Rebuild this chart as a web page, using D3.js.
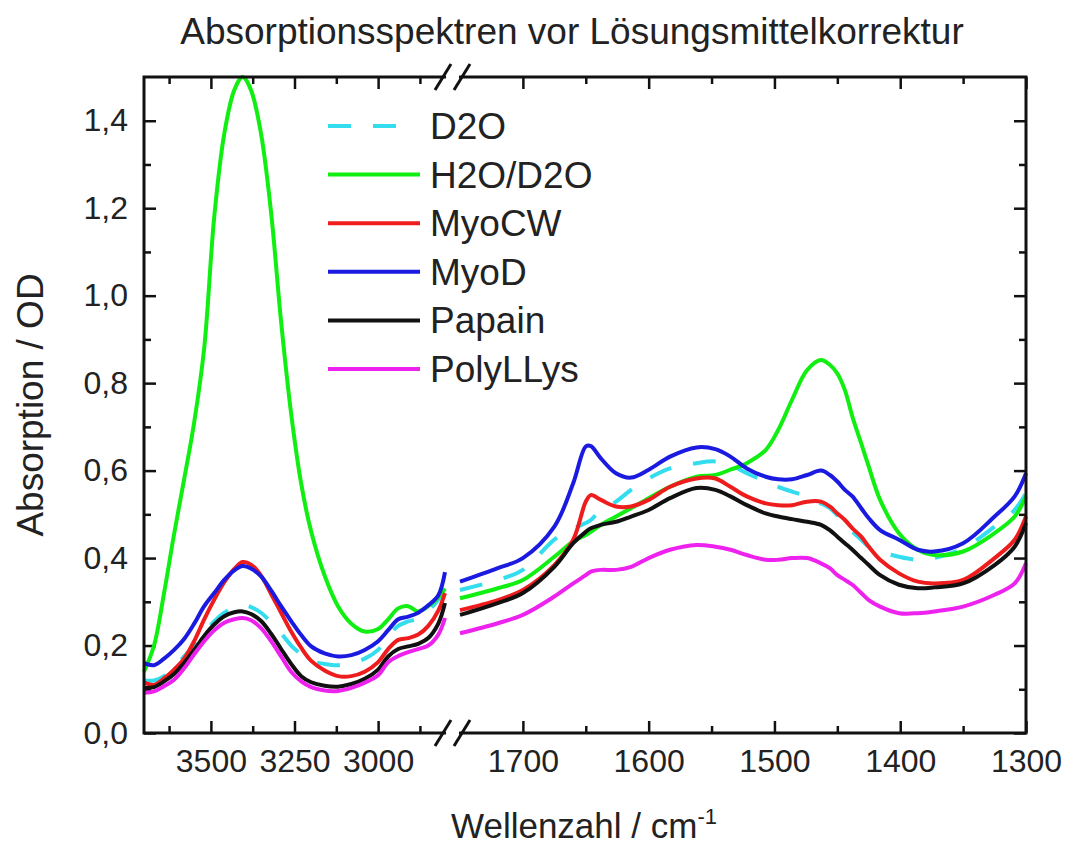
<!DOCTYPE html>
<html>
<head>
<meta charset="utf-8">
<script src="https://d3js.org/d3.v7.min.js"></script>
<style>
    body { margin: 0; background: #fff; }
    text { font-family: "Liberation Sans", Arial, sans-serif; fill: #222; }
</style>
</head>
<body>
<div id="myDiv"></div>
<script>
//Wavenumbers of the two x segments (left: OH/OD stretch, right: amide region)
var wnLeft = [3700, 3670, 3640, 3610, 3580, 3550, 3520, 3490, 3460, 3430, 3405, 3380, 3350, 3320, 3290,
    3260, 3230, 3200, 3160, 3120, 3080, 3040, 3000, 2970, 2940, 2910, 2880, 2850, 2820, 2800];
var wnRight = [1750, 1720, 1700, 1675, 1660, 1650, 1646, 1638, 1626, 1614, 1600, 1583, 1562, 1547, 1535,
    1522, 1507, 1497, 1486, 1474, 1463, 1456, 1450, 1444, 1438, 1431, 1425, 1416, 1401, 1386, 1373, 1350, 1325, 1309, 1300];

//Series names
var names = ["D2O", "H2O/D2O", "MyoCW", "MyoD", "Papain", "PolyLLys"];
var colors = ["#33dded", "#11ee11", "#ee1c1c", "#1a1ae0", "#111111", "#ee22ee"];

//Absorption values, left segment
var d2oLeft = [0.12, 0.12, 0.13, 0.15, 0.175, 0.2, 0.228, 0.255, 0.275, 0.288, 0.292, 0.288, 0.275, 0.253, 0.228,
    0.2, 0.18, 0.165, 0.158, 0.155, 0.16, 0.17, 0.19, 0.22, 0.245, 0.255, 0.262, 0.28, 0.305, 0.34];
var h2oLeft = [0.14, 0.2, 0.32, 0.455, 0.58, 0.71, 0.88, 1.18, 1.37, 1.47, 1.5, 1.47, 1.37, 1.19, 0.94,
    0.73, 0.57, 0.46, 0.36, 0.29, 0.25, 0.232, 0.238, 0.26, 0.285, 0.29, 0.278, 0.29, 0.31, 0.33];
var myocwLeft = [0.115, 0.11, 0.125, 0.145, 0.17, 0.21, 0.26, 0.305, 0.345, 0.375, 0.391, 0.385, 0.36, 0.318, 0.275,
    0.232, 0.195, 0.165, 0.143, 0.13, 0.13, 0.14, 0.162, 0.192, 0.213, 0.217, 0.225, 0.245, 0.28, 0.32];
var myodLeft = [0.16, 0.155, 0.17, 0.19, 0.215, 0.25, 0.29, 0.32, 0.35, 0.372, 0.382, 0.376, 0.358, 0.326, 0.29,
    0.256, 0.224, 0.198, 0.182, 0.175, 0.178, 0.19, 0.21, 0.235, 0.26, 0.266, 0.275, 0.292, 0.315, 0.368];
var papainLeft = [0.103, 0.105, 0.118, 0.135, 0.16, 0.19, 0.222, 0.248, 0.267, 0.276, 0.278, 0.272, 0.256, 0.227, 0.192,
    0.158, 0.13, 0.116, 0.108, 0.106, 0.112, 0.124, 0.145, 0.175, 0.192, 0.198, 0.204, 0.217, 0.25, 0.297];
var lysLeft = [0.092, 0.095, 0.107, 0.122, 0.148, 0.18, 0.21, 0.235, 0.252, 0.26, 0.263, 0.258, 0.24, 0.21, 0.175,
    0.14, 0.118, 0.105, 0.097, 0.096, 0.103, 0.115, 0.132, 0.162, 0.176, 0.185, 0.192, 0.2, 0.225, 0.263];

//Absorption values, right segment
var d2oRight = [0.327, 0.35, 0.373, 0.442, 0.468, 0.48, 0.487, 0.51, 0.529, 0.556, 0.582, 0.605, 0.617, 0.621, 0.613,
    0.594, 0.575, 0.563, 0.552, 0.541, 0.525, 0.514, 0.498, 0.48, 0.46, 0.442, 0.426, 0.415, 0.403, 0.396, 0.4, 0.422, 0.472, 0.51, 0.548];
var h2oRight = [0.308, 0.331, 0.35, 0.403, 0.438, 0.453, 0.46, 0.476, 0.495, 0.514, 0.537, 0.563, 0.586, 0.59, 0.602,
    0.617, 0.647, 0.693, 0.762, 0.83, 0.853, 0.842, 0.822, 0.784, 0.723, 0.662, 0.609, 0.533, 0.457, 0.419, 0.407, 0.415, 0.457, 0.495, 0.541];
var myocwRight = [0.281, 0.304, 0.327, 0.384, 0.442, 0.529, 0.544, 0.533, 0.518, 0.518, 0.533, 0.563, 0.582, 0.582, 0.563,
    0.541, 0.525, 0.521, 0.521, 0.529, 0.529, 0.518, 0.502, 0.487, 0.468, 0.449, 0.426, 0.396, 0.365, 0.346, 0.342, 0.35, 0.4, 0.442, 0.495];
var myodRight = [0.346, 0.377, 0.4, 0.472, 0.571, 0.655, 0.656, 0.628, 0.594, 0.584, 0.602, 0.632, 0.653, 0.649, 0.632,
    0.605, 0.586, 0.58, 0.58, 0.59, 0.6, 0.59, 0.575, 0.556, 0.541, 0.514, 0.491, 0.464, 0.442, 0.419, 0.415, 0.434, 0.495, 0.541, 0.594];
var papainRight = [0.27, 0.297, 0.32, 0.38, 0.434, 0.46, 0.468, 0.476, 0.483, 0.495, 0.51, 0.537, 0.56, 0.556, 0.541,
    0.521, 0.502, 0.495, 0.489, 0.483, 0.476, 0.464, 0.449, 0.434, 0.419, 0.4, 0.384, 0.361, 0.339, 0.331, 0.333, 0.342, 0.384, 0.426, 0.48];
var lysRight = [0.228, 0.251, 0.27, 0.312, 0.342, 0.361, 0.369, 0.373, 0.373, 0.38, 0.4, 0.419, 0.43, 0.426, 0.419,
    0.407, 0.396, 0.396, 0.4, 0.4, 0.388, 0.377, 0.361, 0.35, 0.339, 0.32, 0.304, 0.289, 0.274, 0.274, 0.278, 0.289, 0.316, 0.342, 0.388];

var leftValues = [d2oLeft, h2oLeft, myocwLeft, myodLeft, papainLeft, lysLeft];
var rightValues = [d2oRight, h2oRight, myocwRight, myodRight, papainRight, lysRight];

//Tick labels
var leftTicks = [3500, 3250, 3000];
var rightTicks = [1700, 1600, 1500, 1400, 1300];
var yTicks = [0, 0.2, 0.4, 0.6, 0.8, 1.0, 1.2, 1.4];

var width = 1067;
var height = 848;
var plotTop = 77, plotBottom = 733, plotLeft = 144, plotRight = 1026;
var breakL = 445, breakR = 460;

//Create an SVG Container
var svg = d3.select("#myDiv").append("svg")
    .attr("width", width)
    .attr("height", height);

svg.append("rect").attr("width", width).attr("height", height).attr("fill", "#fff");

//Scales
var yScale = d3.scaleLinear().domain([0, 1.5]).range([plotBottom, plotTop]);
var xLeft = d3.scaleLinear().domain([3700, 2800]).range([plotLeft, breakL]);
var xRight = d3.scaleLinear().domain([1750, 1300]).range([breakR, plotRight]);

var comma = function(d){ return d3.format(".1f")(d).replace(".", ","); };
var yMinors = [0.1, 0.3, 0.5, 0.7, 0.9, 1.1, 1.3];

//Y axes (left with labels, right mirrored)
svg.append("g").attr("class", "axis").attr("transform", "translate(" + plotLeft + ",0)")
    .call(d3.axisLeft(yScale).tickValues(yTicks).tickSize(-12).tickPadding(16).tickFormat(comma));
svg.append("g").attr("class", "axis").attr("transform", "translate(" + plotLeft + ",0)")
    .call(d3.axisLeft(yScale).tickValues(yMinors).tickSize(-7).tickFormat(""));
svg.append("g").attr("class", "axis").attr("transform", "translate(" + plotRight + ",0)")
    .call(d3.axisRight(yScale).tickValues(yTicks).tickSize(-12).tickFormat(""));
svg.append("g").attr("class", "axis").attr("transform", "translate(" + plotRight + ",0)")
    .call(d3.axisRight(yScale).tickValues(yMinors).tickSize(-7).tickFormat(""));

//X axes, bottom and top, for both segments
function xAxes(scale, majors, minors){
    svg.append("g").attr("class", "axis").attr("transform", "translate(0," + plotBottom + ")")
        .call(d3.axisBottom(scale).tickValues(majors).tickSize(-12).tickPadding(16).tickFormat(d3.format("d")));
    svg.append("g").attr("class", "axis").attr("transform", "translate(0," + plotBottom + ")")
        .call(d3.axisBottom(scale).tickValues(minors).tickSize(-7).tickFormat(""));
    svg.append("g").attr("class", "axis").attr("transform", "translate(0," + plotTop + ")")
        .call(d3.axisTop(scale).tickValues(majors).tickSize(-12).tickFormat(""));
    svg.append("g").attr("class", "axis").attr("transform", "translate(0," + plotTop + ")")
        .call(d3.axisTop(scale).tickValues(minors).tickSize(-7).tickFormat(""));
}
xAxes(xLeft, leftTicks, [3625, 3375, 3125, 2875]);
xAxes(xRight, rightTicks, [1650, 1550, 1450, 1350]);

svg.selectAll(".axis path.domain").remove();
svg.selectAll(".axis line").attr("stroke", "#111").attr("stroke-width", 2.5);
svg.selectAll(".axis text").attr("font-size", 32).attr("fill", "#222")
    .attr("font-family", "'Liberation Sans', Arial, sans-serif");

//Lines
var lineLeft = d3.line()
    .x(function(d){ return xLeft(d[0]); })
    .y(function(d){ return yScale(d[1]); })
    .curve(d3.curveCatmullRom.alpha(0.5));
var lineRight = d3.line()
    .x(function(d){ return xRight(d[0]); })
    .y(function(d){ return yScale(d[1]); })
    .curve(d3.curveCatmullRom.alpha(0.5));

var order = [0, 1, 2, 4, 5, 3];
order.forEach(function(i){
    var dash = i == 0 ? "23,22" : null;
    svg.append("path")
        .datum(wnLeft.map(function(w, j){ return [w, leftValues[i][j]]; }))
        .attr("d", lineLeft)
        .attr("fill", "none").attr("stroke", colors[i]).attr("stroke-width", 4)
        .attr("stroke-dasharray", dash);
    svg.append("path")
        .datum(wnRight.map(function(w, j){ return [w, rightValues[i][j]]; }))
        .attr("d", lineRight)
        .attr("fill", "none").attr("stroke", colors[i]).attr("stroke-width", 4)
        .attr("stroke-dasharray", dash);
});

//Frame with gaps at the break
var frame = svg.append("g").attr("stroke", "#111").attr("stroke-width", 3).attr("fill", "none");
frame.append("path").attr("d", "M" + (breakL + 1) + "," + plotTop + "H" + plotLeft + "V" + plotBottom + "H" + (breakL + 1));
frame.append("path").attr("d", "M" + (breakR - 1) + "," + plotTop + "H" + plotRight + "V" + plotBottom + "H" + (breakR - 1));

//Break marks //
[plotTop, plotBottom].forEach(function(yb){
    [breakL - 2, breakR + 2].forEach(function(xb){
        svg.append("line")
            .attr("x1", xb - 8).attr("y1", yb + 13)
            .attr("x2", xb + 8).attr("y2", yb - 13)
            .attr("stroke", "#111").attr("stroke-width", 3);
    });
});

//Legend
var legend = svg.append("g").attr("transform", "translate(328,126)");
names.forEach(function(n, i){
    var row = legend.append("g").attr("transform", "translate(0," + (i * 48.6) + ")");
    row.append("line")
        .attr("x1", 0).attr("x2", i == 0 ? 70 : 92).attr("y1", 0).attr("y2", 0)
        .attr("stroke", colors[i]).attr("stroke-width", 4)
        .attr("stroke-dasharray", i == 0 ? "23,22" : null);
    row.append("text").attr("x", 102).attr("y", 13).attr("font-size", 37).text(n);
});

//Title
svg.append("text")
    .attr("x", 572).attr("y", 44)
    .attr("text-anchor", "middle").attr("font-size", 37)
    .text("Absorptionsspektren vor Lösungsmittelkorrektur");

//Axis titles
var xt = svg.append("text")
    .attr("x", 584).attr("y", 838)
    .attr("text-anchor", "middle").attr("font-size", 35);
xt.append("tspan").text("Wellenzahl / cm");
xt.append("tspan").attr("dy", -14).attr("font-size", 22).text("-1");

svg.append("text")
    .attr("transform", "translate(43,405) rotate(-90)")
    .attr("text-anchor", "middle").attr("font-size", 37)
    .text("Absorption / OD");
</script>
</body>
</html>
